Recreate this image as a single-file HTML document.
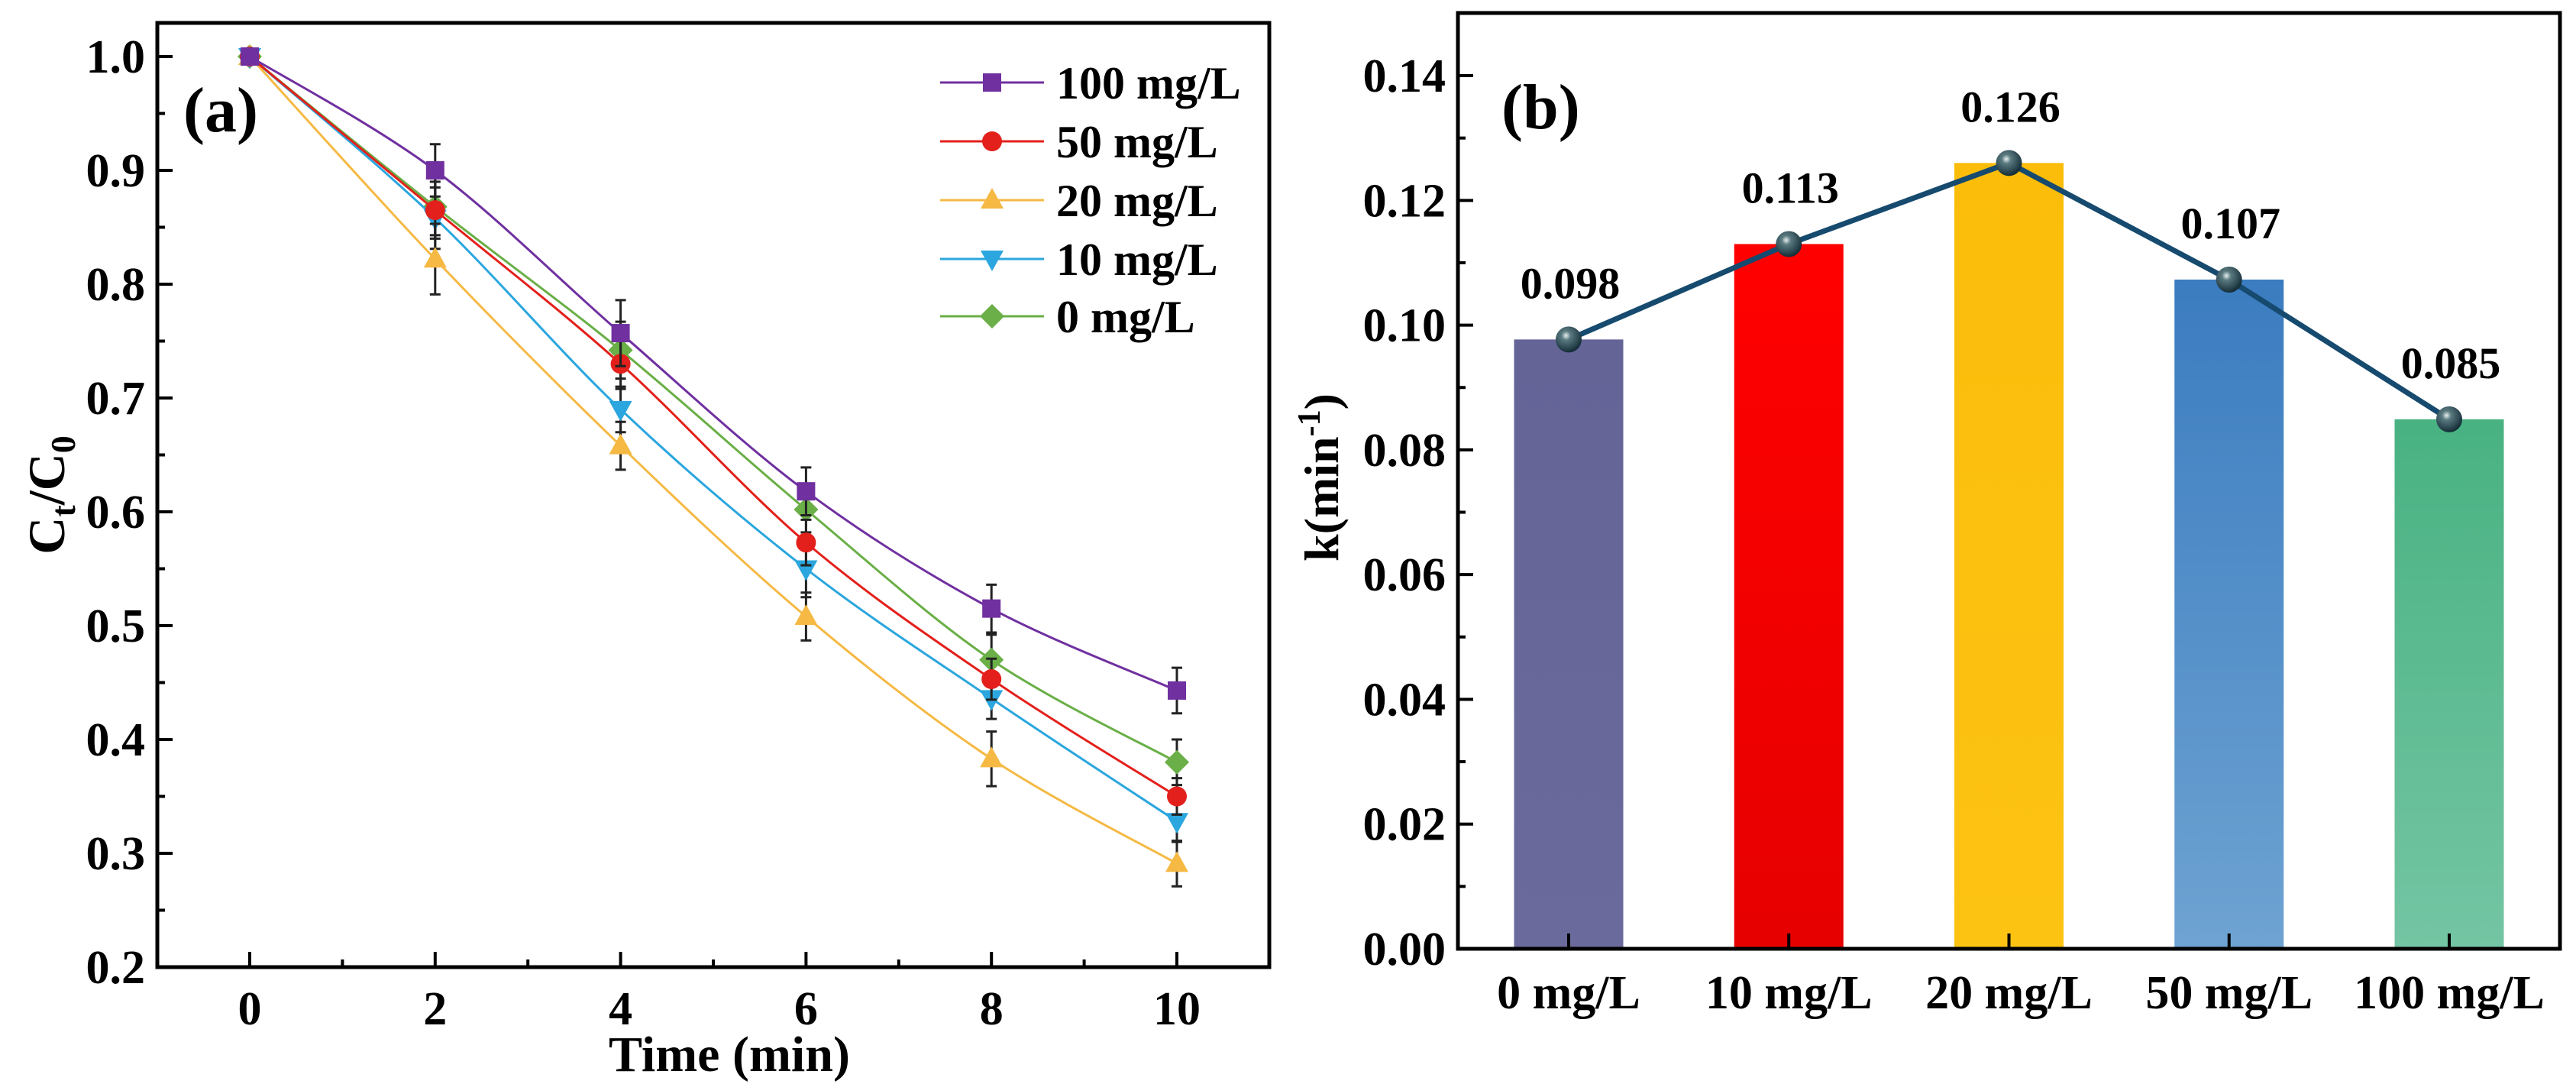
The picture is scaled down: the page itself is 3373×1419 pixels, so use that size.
<!DOCTYPE html>
<html><head><meta charset="utf-8"><style>
html,body{margin:0;padding:0;background:#fff;}
svg{display:block;font-family:"Liberation Serif",serif;font-weight:bold;}
</style></head><body>
<svg id="s" width="3373" height="1419" viewBox="0 0 3373 1419" xmlns="http://www.w3.org/2000/svg">
<defs>
<radialGradient id="ball" cx="0.4" cy="0.35" r="0.7"><stop offset="0" stop-color="#e8f0f0"/><stop offset="0.25" stop-color="#5a7a80"/><stop offset="1" stop-color="#0d2530"/></radialGradient>
<linearGradient id="g0" x1="0" y1="0" x2="0" y2="1"><stop offset="0" stop-color="#646497"/><stop offset="1" stop-color="#6a6a9c"/></linearGradient>
<linearGradient id="g1" x1="0" y1="0" x2="0" y2="1"><stop offset="0" stop-color="#ff0000"/><stop offset="1" stop-color="#e60000"/></linearGradient>
<linearGradient id="g2" x1="0" y1="0" x2="0" y2="1"><stop offset="0" stop-color="#fbbd0a"/><stop offset="1" stop-color="#fdc313"/></linearGradient>
<linearGradient id="g3" x1="0" y1="0" x2="0" y2="1"><stop offset="0" stop-color="#3b7cc0"/><stop offset="1" stop-color="#6ea3d2"/></linearGradient>
<linearGradient id="g4" x1="0" y1="0" x2="0" y2="1"><stop offset="0" stop-color="#48b282"/><stop offset="1" stop-color="#74c5a3"/></linearGradient>
</defs>
<g id="pa"></g>
<g id="pb"></g>
</svg>
<script>
const NS="http://www.w3.org/2000/svg";
// Panel (a) data
const times=[0,2,4,6,8,10];
const seriesNames=["100 mg/L","50 mg/L","20 mg/L","10 mg/L","0 mg/L"];
const s100=[1.0,0.900,0.757,0.618,0.515,0.443];
const s50=[1.0,0.865,0.730,0.573,0.453,0.350];
const s20=[1.0,0.822,0.658,0.508,0.383,0.291];
const s10=[1.0,0.858,0.690,0.550,0.436,0.328];
const s0=[1.0,0.868,0.742,0.602,0.470,0.380];
const e100=[0,0.023,0.029,0.021,0.021,0.020];
const e50=[0,0.025,0.022,0.020,0.018,0.016];
const e20=[0,0.031,0.021,0.021,0.024,0.020];
const e10=[0,0.027,0.020,0.025,0.018,0.018];
const e0=[0,0.025,0.025,0.020,0.022,0.020];
const yTicksA=["0.2","0.3","0.4","0.5","0.6","0.7","0.8","0.9","1.0"];
const xTicksA=["0","2","4","6","8","10"];
// Panel (b) data
const cats=["0 mg/L","10 mg/L","20 mg/L","50 mg/L","100 mg/L"];
const kvals=[0.0977,0.113,0.126,0.1073,0.0849];
const klabels=["0.098","0.113","0.126","0.107","0.085"];
const yTicksB=["0.00","0.02","0.04","0.06","0.08","0.10","0.12","0.14"];

function el(tag,attrs,parent,text){const e=document.createElementNS(NS,tag);for(const k in attrs)e.setAttribute(k,attrs[k]);if(text!==undefined)e.textContent=text;parent.appendChild(e);return e;}

// ---------- Panel A ----------
const pa=document.getElementById('pa');
const AX={l:206,r:1662,t:30,b:1266};
const xa=v=>327+(v-0)*121.4;
const ya=v=>74+(1.0-v)*1490;
const colors=["#7030a0","#e3201b","#f5b944","#2ba6de","#6aaf47"];
const sdata=[s100,s50,s20,s10,s0];
const edata=[e100,e50,e20,e10,e0];
const shapes=["square","circle","up","down","diamond"];
function marker(g,shape,x,y,c){
  let m;
  if(shape==="square")m=el('rect',{x:x-12,y:y-12,width:24,height:24,fill:c},g);
  else if(shape==="circle")m=el('circle',{cx:x,cy:y,r:13,fill:c},g);
  else if(shape==="up")m=el('polygon',{points:`${x},${y-16} ${x+15},${y+11} ${x-15},${y+11}`,fill:c},g);
  else if(shape==="down")m=el('polygon',{points:`${x},${y+16} ${x+15},${y-11} ${x-15},${y-11}`,fill:c},g);
  else m=el('polygon',{points:`${x},${y-16} ${x+16},${y} ${x},${y+16} ${x-16},${y}`,fill:c},g);
  return m;
}
function spline(pts){
  let d=`M${pts[0][0]},${pts[0][1]}`;
  for(let i=0;i<pts.length-1;i++){
    const p0=pts[Math.max(i-1,0)],p1=pts[i],p2=pts[i+1],p3=pts[Math.min(i+2,pts.length-1)];
    const c1x=p1[0]+(p2[0]-p0[0])/6,c1y=p1[1]+(p2[1]-p0[1])/6;
    const c2x=p2[0]-(p3[0]-p1[0])/6,c2y=p2[1]-(p3[1]-p1[1])/6;
    d+=` C${c1x},${c1y} ${c2x},${c2y} ${p2[0]},${p2[1]}`;
  }
  return d;
}
for(let k=sdata.length-1;k>=0;k--){
  const g=el('g',{},pa);
  
  
  const pts=times.map((t,i)=>[xa(t),ya(sdata[k][i])]);
  const p=el('path',{d:spline(pts),fill:'none',stroke:colors[k],'stroke-width':3},g);
  
  
  times.forEach((t,i)=>{
    const e=edata[k][i];
    if(e>0){
      const x=xa(t),y1=ya(sdata[k][i]+e),y2=ya(sdata[k][i]-e);
      const eb=el('path',{d:`M${x},${y1}V${y2}M${x-7},${y1}H${x+7}M${x-7},${y2}H${x+7}`,stroke:'#222','stroke-width':3,fill:'none'},g);
      
      
    }
  });
  times.forEach((t,i)=>{
    const m=marker(g,shapes[k],xa(t),ya(sdata[k][i]),colors[k]);
    
    
  });
}
const fa=el('rect',{x:AX.l,y:AX.t,width:AX.r-AX.l,height:AX.b-AX.t,fill:'none',stroke:'#000','stroke-width':5},pa);


yTicksA.forEach(t=>{
  const v=parseFloat(t),y=ya(v);
  el('line',{x1:AX.l,x2:AX.l+20,y1:y,y2:y,stroke:'#000','stroke-width':4},pa);
  if(v<0.99){const ym=ya(v+0.05);el('line',{x1:AX.l,x2:AX.l+10,y1:ym,y2:ym,stroke:'#000','stroke-width':4},pa);}
  const tx=el('text',{x:AX.l-16,y:y+21,'font-size':62,'text-anchor':'end'},pa,t);
  
  
});
xTicksA.forEach(t=>{
  const v=parseFloat(t),x=xa(v);
  el('line',{x1:x,x2:x,y1:AX.b,y2:AX.b-20,stroke:'#000','stroke-width':4},pa);
  const xm=xa(v+1);if(xm<AX.r)el('line',{x1:xm,x2:xm,y1:AX.b,y2:AX.b-10,stroke:'#000','stroke-width':4},pa);
  const tx=el('text',{x:x,y:1341,'font-size':62,'text-anchor':'middle'},pa,t);
  
  
});
</script>
<script>
(function(){
const pa=document.getElementById('pa');
function el(tag,attrs,parent,text){const e=document.createElementNS(NS,tag);for(const k in attrs)e.setAttribute(k,attrs[k]);if(text!==undefined)e.textContent=text;parent.appendChild(e);return e;}
let t=el('text',{x:955,y:1402,'font-size':66,'text-anchor':'middle'},pa,'Time (min)');


t=el('text',{x:0,y:0,'font-size':68,'text-anchor':'middle',transform:'translate(84,648) rotate(-90)'},pa);


el('tspan',{},t,'C');el('tspan',{'font-size':46,dy:14},t,'t');el('tspan',{dy:-14},t,'/C');el('tspan',{'font-size':46,dy:14},t,'0');
t=el('text',{x:240,y:172,'font-size':84},pa,'(a)');


const rows=[108,185,262,339,414];
rows.forEach((y,k)=>{
  const g=el('g',{},pa);
  
  
  el('line',{x1:1231,x2:1367,y1:y,y2:y,stroke:colors[k],'stroke-width':3},g);
  marker(g,shapes[k],1299,y,colors[k]);
  el('text',{x:1383,y:y+21,'font-size':60},g,seriesNames[k]);
});
})();
</script>
<script>
(function(){
const pb=document.getElementById('pb');
function el(tag,attrs,parent,text){const e=document.createElementNS(NS,tag);for(const k in attrs)e.setAttribute(k,attrs[k]);if(text!==undefined)e.textContent=text;parent.appendChild(e);return e;}
const BX={l:1909,r:3352,t:17,b:1242};
const xb=i=>2054+i*288.25;
const yb=v=>1242-v*8164;
const bw=143;
cats.forEach((c,i)=>{
  const r=el('rect',{x:xb(i)-bw/2,y:yb(kvals[i]),width:bw,height:yb(0)-yb(kvals[i]),fill:`url(#g${i})`},pb);
  
  
});
const lp=el('polyline',{points:kvals.map((v,i)=>`${xb(i)},${yb(v)}`).join(' '),fill:'none',stroke:'#164a6e','stroke-width':7},pb);


kvals.forEach((v,i)=>{
  const c=el('circle',{cx:xb(i),cy:yb(v),r:17,fill:'url(#ball)'},pb);
  
  
  const t=el('text',{x:xb(i)+2,y:yb(v)-54,'font-size':58,'text-anchor':'middle'},pb,klabels[i]);
  
  
});
const f=el('rect',{x:BX.l,y:BX.t,width:BX.r-BX.l,height:BX.b-BX.t,fill:'none',stroke:'#000','stroke-width':5},pb);


yTicksB.forEach(t=>{
  const v=parseFloat(t),y=yb(v);
  el('line',{x1:BX.l,x2:BX.l+20,y1:y,y2:y,stroke:'#000','stroke-width':4},pb);
  const ym=yb(v+0.01);el('line',{x1:BX.l,x2:BX.l+10,y1:ym,y2:ym,stroke:'#000','stroke-width':4},pb);
  const tx=el('text',{x:BX.l-16,y:y+21,'font-size':62,'text-anchor':'end'},pb,t);
  
  
});
cats.forEach((c,i)=>{
  el('line',{x1:xb(i),x2:xb(i),y1:BX.b,y2:BX.b-20,stroke:'#000','stroke-width':4},pb);
  const tx=el('text',{x:xb(i),y:1320,'font-size':62,'text-anchor':'middle'},pb,c);
  
  
});
let t=el('text',{x:0,y:0,'font-size':64,'text-anchor':'middle',transform:'translate(1752,625) rotate(-90)'},pb);


el('tspan',{},t,'k(min');el('tspan',{'font-size':42,dy:-24},t,'-1');el('tspan',{dy:24},t,')');
t=el('text',{x:1966,y:168,'font-size':84},pb,'(b)');


})();
</script>
</body></html>
